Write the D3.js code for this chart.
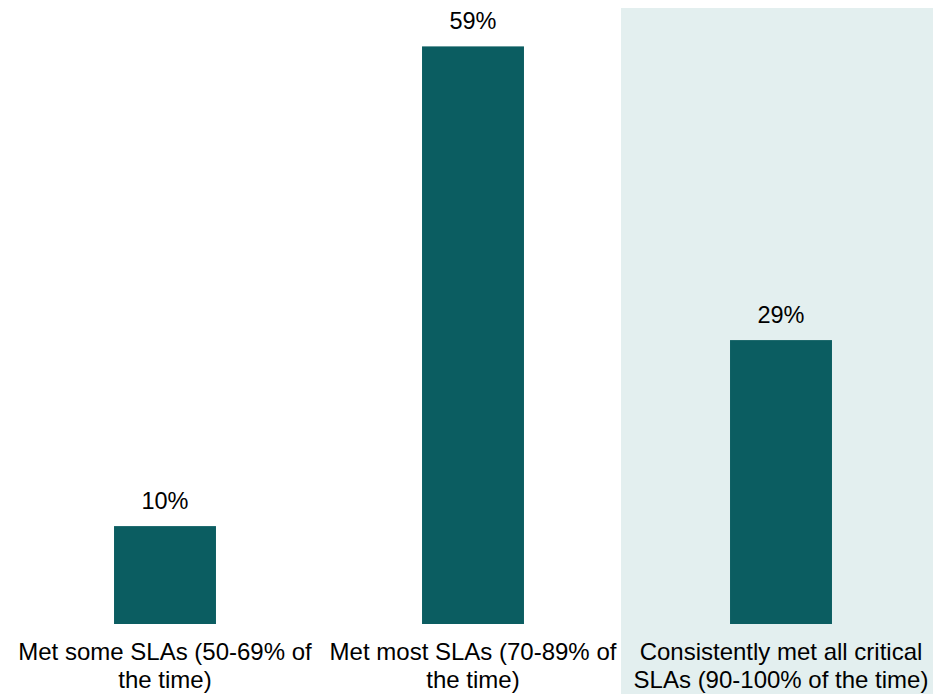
<!DOCTYPE html>
<html>
<head>
<meta charset="utf-8">
<script src="https://cdn.jsdelivr.net/npm/d3@7"></script>
<style>
  html, body { margin: 0; padding: 0; background: #ffffff; }
  svg { display: block; }
  text { font-family: Arial, "Liberation Sans", sans-serif; fill: #000000; }
</style>
</head>
<body>
<svg id="chart" width="933" height="694"></svg>
<script>
// SLA attainment share by category
const categories = [
  "Met some SLAs (50-69% of the time)",
  "Met most SLAs (70-89% of the time)",
  "Consistently met all critical SLAs (90-100% of the time)"
];
const labelLines = [
  ["Met some SLAs (50-69% of", "the time)"],
  ["Met most SLAs (70-89% of", "the time)"],
  ["Consistently met all critical", "SLAs (90-100% of the time)"]
];
const values = [10, 59, 29];
const highlighted = [false, false, true];

const W = 933, H = 694;
const svg = d3.select("#chart");

const x = d3.scaleBand()
  .domain(categories)
  .range([11, 935])
  .paddingInner(0.669)
  .paddingOuter(0.3345);

const y = d3.scaleLinear()
  .domain([0, 60])
  .range([624, 36.6]);

// highlight panel behind the emphasised category
categories.forEach((c, i) => {
  if (!highlighted[i]) return;
  const left = x(c) - x.paddingOuter() * x.step() - 6;
  svg.append("rect")
    .attr("x", left)
    .attr("y", 8)
    .attr("width", W - left)
    .attr("height", H - 8)
    .attr("fill", "#e3efef");
});

// bars
svg.selectAll("rect.bar")
  .data(values)
  .join("rect")
  .attr("class", "bar")
  .attr("x", (d, i) => x(categories[i]))
  .attr("y", d => y(d))
  .attr("width", x.bandwidth())
  .attr("height", d => y(0) - y(d))
  .attr("fill", "#0b5d61");

// value labels
svg.selectAll("text.val")
  .data(values)
  .join("text")
  .attr("class", "val")
  .attr("x", (d, i) => x(categories[i]) + x.bandwidth() / 2)
  .attr("y", d => y(d) - 17)
  .attr("text-anchor", "middle")
  .attr("font-size", "23.5px")
  .text(d => d + "%");

// category labels (two lines each)
const lab = svg.selectAll("text.cat")
  .data(categories)
  .join("text")
  .attr("class", "cat")
  .attr("text-anchor", "middle")
  .attr("font-size", "24px");
lab.each(function(c, i) {
  const cx = x(c) + x.bandwidth() / 2;
  d3.select(this).selectAll("tspan")
    .data(labelLines[i])
    .join("tspan")
    .attr("x", cx)
    .attr("y", (l, j) => 660 + j * 28)
    .text(l => l);
});
</script>
</body>
</html>
